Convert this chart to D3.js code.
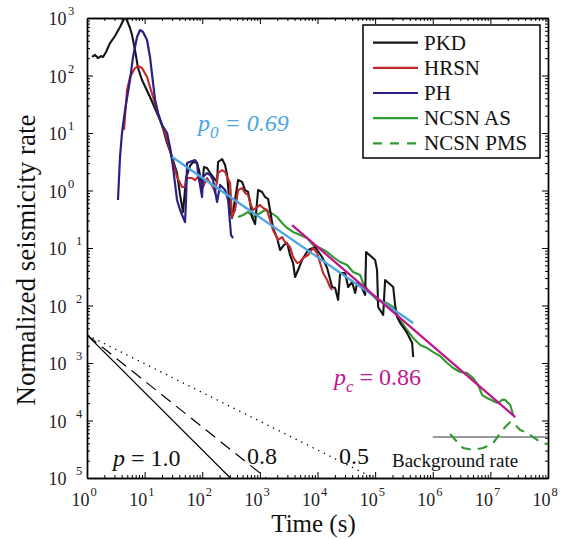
<!DOCTYPE html>
<html><head><meta charset="utf-8">
<script src="https://cdn.jsdelivr.net/npm/d3@7"></script>
<style>body{margin:0;background:#fff}</style>
</head><body><svg id="c" width="566" height="539"></svg>
<script>
// ---- data: [time (s), normalized rate] ----
const pkd = [[1.22,210],[1.38,228],[1.55,201],[1.75,218],[1.90,210],[2.14,256],[2.51,367],[3.06,486],[3.74,697],[4.39,961],[4.75,1000],[5.58,670],[6.04,506],[6.81,277],[7.68,135],[9.01,83.5],[12.4,42.3],[16.4,22.3],[20.0,13.8],[24.5,6.70],[29.9,3.83],[36.5,2.01],[41.2,0.835],[46.4,0.423],[52.3,1.65],[61.4,2.67],[69.2,3.13],[81.2,3.01],[87.9,2.27],[99.3,1.15],[107,2.56],[121,2.46],[137,2.01],[154,1.72],[181,1.41],[188,3.13],[221,3.53],[249,2.77],[270,1.86],[304,0.458],[329,0.333],[419,1.52],[491,1.41],[553,1.02],[624,0.942],[676,0.631],[732,0.346],[826,0.261],[931,1.02],[1090,0.942],[1230,0.771],[1390,0.711],[1500,0.458],[1690,0.223],[1990,0.149],[2240,0.0923],[2630,0.113],[2970,0.122],[3340,0.0755],[3770,0.0548],[4080,0.0313],[4600,0.0414],[5400,0.0618],[6870,0.0923],[9090,0.104],[12000,0.0697],[14700,0.0449],[17900,0.0210],[20200,0.0201],[22800,0.0125],[24700,0.0367],[30100,0.0367],[34000,0.0210],[39900,0.0256],[45000,0.0165],[48700,0.0246],[59400,0.0201],[67000,0.0152],[69800,0.0851],[100000,0.0618],[108000,0.0414],[113000,0.00942],[138000,0.00684],[149000,0.0277],[206000,0.0210],[222000,0.0102],[241000,0.00631],[272000,0.00497],[359000,0.00333],[439000,0.00223],[457000,0.00127]];

const hrsn = [[4.39,11.3],[4.95,56.0],[5.58,94.2],[6.81,135],[7.68,146],[9.01,135],[11.0,94.2],[14.0,42.3],[18.5,16.8],[22.6,10],[27.6,5.06],[31.1,3.01],[36.5,1.72],[44.6,1.15],[50.3,1.15],[54.5,1.65],[66.5,1.65],[75.0,1.52],[84.5,1.72],[91.6,1.41],[103,1.15],[121,1.65],[137,1.35],[154,1.15],[167,0.906],[188,2.01],[221,2.27],[249,2.10],[270,1.72],[304,1.35],[329,0.346],[371,0.458],[419,1.02],[491,1.10],[553,0.906],[624,0.835],[676,0.607],[762,0.458],[894,0.516],[1010,0.560],[1140,0.497],[1330,0.458],[1500,0.307],[1690,0.206],[2070,0.138],[2430,0.155],[2740,0.127],[3340,0.104],[3770,0.0697],[4420,0.0548],[4990,0.0571],[5620,0.0670],[6870,0.0755],[8390,0.1],[9840,0.0818],[11100,0.0548],[12500,0.0367],[14700,0.0277],[16500,0.0210],[17900,0.0186]];

const ph = [[3.45,0.684],[3.74,3.83],[4.05,10],[4.57,25.1],[5.58,83.5],[6.29,210],[7.38,468],[8.32,618],[9.38,571],[11.0,414],[12.4,210],[14.0,74.1],[15.2,37.5],[17.1,22.3],[20.0,13.8],[24.5,10],[27.6,5.71],[31.1,2.56],[36.5,0.684],[41.2,0.458],[50.3,0.283],[52.3,0.684],[54.5,3.01],[66.5,3.26],[75.0,3.39],[81.2,3.01],[84.5,2.01],[99.3,0.771],[103,1.72],[121,2.01],[137,1.86],[154,1.52],[181,0.631],[204,1.25],[249,1.02],[281,0.684],[316,0.168],[343,0.149]];

const ncsnAS = [[419,0.346],[511,0.375],[624,0.423],[762,0.346],[1010,0.406],[1230,0.458],[1500,0.423],[1990,0.346],[2430,0.272],[2970,0.223],[3770,0.190],[4990,0.168],[6590,0.149],[8390,0.113],[11100,0.1],[14700,0.0851],[18700,0.0697],[24700,0.0571],[32700,0.0506],[41500,0.0383],[54900,0.0339],[61900,0.0246],[81900,0.0165],[108000,0.0125],[161000,0.0110],[205000,0.00942],[272000,0.00560],[359000,0.00375],[457000,0.00272],[604000,0.00206],[800000,0.00182],[1.02e6,0.00155],[1.34e6,0.00132],[1.78e6,0.001],[2.26e6,0.000818],[2.99e6,0.000697],[3.95e6,0.000670],[5.02e6,0.000548],[6.14e6,0.000414],[7.21e6,0.000277],[8.79e6,0.000246],[1.21e7,0.000210],[1.36e7,0.000201],[1.60e7,0.000228],[1.81e7,0.000228],[2.21e7,0.000186],[2.49e7,0.000125]];

const ncsnPMS = [[2.00e6,5.82e-5],[2.65e6,4.23e-5],[3.37e6,3.33e-5],[5.02e6,3.07e-5],[7.50e6,3.33e-5],[1.12e7,4.06e-5],[1.48e7,6.07e-5],[1.81e7,7.71e-5],[2.21e7,9.42e-5],[2.49e7,9.06e-5],[3.29e7,6.84e-5],[4.35e7,6.07e-5],[5.53e7,5.16e-5],[7.33e7,4.23e-5],[9.69e7,3.90e-5]];

const fitP0 = [[30,3.83],[4.57e5,4.97e-3]];      // p0 = 0.69
const fitPc = [[3620,0.251],[2.70e7,1.15e-4]];   // pc = 0.86
const backgroundRate = [[1e6,5.17e-5],[1e8,5.17e-5]];
const refP = [1.0, 0.8, 0.5];
const refRateAt1s = 3.07e-3;

const xTickExp = [0,1,2,3,4,5,6,7,8];
const yTickExp = [-5,-4,-3,-2,-1,0,1,2,3];
const yTickLabel = ["5","4","3","2","1","0","1","2","3"];

// ---- drawing ----
const svg = d3.select("#c");
const L=87, R=548, T=18, B=478;
const x = d3.scaleLog().domain([1,1e8]).range([L,R]);
const y = d3.scaleLog().domain([1e-5,1e3]).range([B,T]);
const serif = "Liberation Serif, Times New Roman, serif";

svg.append("defs").append("clipPath").attr("id","clip")
  .append("rect").attr("x",L).attr("y",T).attr("width",R-L).attr("height",B-T);

const majorX = xTickExp.map(e=>Math.pow(10,e));
const majorY = yTickExp.map(e=>Math.pow(10,e));
const minorOf = (majors)=>{const m=[];for(let i=0;i<majors.length-1;i++)for(let k=2;k<=9;k++)m.push(majors[i]*k);return m;};
const minorX = minorOf(majorX), minorY = minorOf(majorY);

function axisG(axis, tr){
  const g = svg.append("g").attr("transform",tr).call(axis);
  g.selectAll("text").remove();
  g.selectAll("line").attr("stroke","#000").attr("stroke-width",1);
  g.select(".domain").attr("stroke","#000").attr("stroke-width",1.4);
  return g;
}
[[d3.axisBottom, `translate(0,${B})`, x, majorX, minorX],
 [d3.axisTop, `translate(0,${T})`, x, majorX, minorX],
 [d3.axisLeft, `translate(${L},0)`, y, majorY, minorY],
 [d3.axisRight, `translate(${R},0)`, y, majorY, minorY]].forEach(([ax,tr,sc,maj,min])=>{
  axisG(ax(sc).tickValues(min).tickSizeInner(-3).tickSizeOuter(0).tickFormat(""), tr);
  axisG(ax(sc).tickValues(maj).tickSizeInner(-6).tickSizeOuter(0).tickFormat(""), tr);
});

// tick labels
xTickExp.forEach(e=>{
  const px = x(Math.pow(10,e));
  svg.append("text").attr("x",px+2.5).attr("y",506).attr("text-anchor","end")
    .attr("font-family",serif).attr("font-size",18).attr("fill","#222").text("10");
  svg.append("text").attr("x",px+3.5).attr("y",495.5)
    .attr("font-family",serif).attr("font-size",12.5).attr("fill","#222").text(String(e));
});
yTickExp.forEach((e,i)=>{
  const py = y(Math.pow(10,e));
  svg.append("text").attr("x",66.5).attr("y",py+7).attr("text-anchor","end")
    .attr("font-family",serif).attr("font-size",18).attr("fill","#222").text("10");
  svg.append("text").attr("x",e<0?76:68).attr("y",py-3)
    .attr("font-family",serif).attr("font-size",12.5).attr("fill","#222").text(yTickLabel[i]);
});

// axis titles
svg.append("text").attr("x",313.5).attr("y",532).attr("text-anchor","middle")
  .attr("font-family",serif).attr("font-size",25).attr("fill","#111").text("Time (s)");
svg.append("text").attr("transform","translate(35,260) rotate(-90)").attr("text-anchor","middle")
  .attr("font-family",serif).attr("font-size",27).attr("fill","#111").text("Normalized seismicity rate");

const plot = svg.append("g").attr("clip-path","url(#clip)");
const line = d3.line().x(d=>x(d[0])).y(d=>y(d[1]));

// reference decay lines
const refDash = {"1":null, "0.8":"12,7", "0.5":"1.3,5"};
refP.forEach(p=>{
  const tEnd = Math.pow(refRateAt1s/1e-5, 1/p);
  plot.append("path").datum([[1,refRateAt1s],[tEnd,1e-5]]).attr("d",line)
    .attr("fill","none").attr("stroke","#000").attr("stroke-width",p===0.5?1.3:1.2)
    .attr("stroke-dasharray",refDash[String(p)]);
});

// background rate
plot.append("path").datum(backgroundRate).attr("d",line)
  .attr("fill","none").attr("stroke","#777").attr("stroke-width",1.5);

const series = [
  {name:"PKD", data:pkd, color:"#151515", w:2.1, dash:null},
  {name:"HRSN", data:hrsn, color:"#c0282c", w:2.1, dash:null},
  {name:"PH", data:ph, color:"#2a2185", w:2.2, dash:null},
  {name:"NCSN AS", data:ncsnAS, color:"#2f9a2f", w:2.1, dash:null},
  {name:"NCSN PMS", data:ncsnPMS, color:"#2f9a2f", w:2.1, dash:"10,7"}
];
[series[3],series[4],series[0],series[1],series[2]].forEach(s=>{
  plot.append("path").datum(s.data).attr("d",line).attr("fill","none")
    .attr("stroke",s.color).attr("stroke-width",s.w).attr("stroke-linejoin","round")
    .attr("stroke-dasharray",s.dash);
});

// fits
plot.append("path").datum(fitP0).attr("d",line).attr("fill","none").attr("stroke","#4ba6e2").attr("stroke-width",2.3);
plot.append("path").datum(fitPc).attr("d",line).attr("fill","none").attr("stroke","#c0168c").attr("stroke-width",2.3);

// annotations
const t0 = svg.append("text").attr("x",198).attr("y",131).attr("font-family",serif)
  .attr("font-size",24).attr("font-style","italic").attr("fill","#4ba6e2");
t0.append("tspan").text("p");
t0.append("tspan").attr("font-size",17).attr("dy",7).text("0");
t0.append("tspan").attr("dy",-7).text(" = 0.69");

const tc = svg.append("text").attr("x",334).attr("y",385).attr("font-family",serif)
  .attr("font-size",24).attr("fill","#c0168c");
tc.append("tspan").attr("font-style","italic").text("p");
tc.append("tspan").attr("font-style","italic").attr("font-size",17).attr("dy",7).text("c");
tc.append("tspan").attr("dy",-7).text(" = 0.86");

const tp = svg.append("text").attr("x",113).attr("y",466).attr("font-family",serif)
  .attr("font-size",24).attr("fill","#111");
tp.append("tspan").attr("font-style","italic").text("p");
tp.append("tspan").text(" = 1.0");
svg.append("text").attr("x",247).attr("y",464).attr("font-family",serif).attr("font-size",24).attr("fill","#111").text("0.8");
svg.append("text").attr("x",339).attr("y",464).attr("font-family",serif).attr("font-size",24).attr("fill","#111").text("0.5");
svg.append("text").attr("x",392).attr("y",467).attr("font-family",serif).attr("font-size",19).attr("fill","#111").text("Background rate");

// legend
const lg = svg.append("g");
lg.append("rect").attr("x",363).attr("y",25).attr("width",177).attr("height",133)
  .attr("fill","#fff").attr("stroke","#000").attr("stroke-width",1.5);
series.forEach((s,i)=>{
  const ly = 42.7 + 25.15*i;
  lg.append("line").attr("x1",373).attr("x2",418).attr("y1",ly).attr("y2",ly)
    .attr("stroke",s.color).attr("stroke-width",2.2).attr("stroke-dasharray",s.dash?"9,8":null);
  lg.append("text").attr("x",424).attr("y",ly+7).attr("font-family",serif)
    .attr("font-size",21).attr("fill","#111").text(s.name);
});
</script></body></html>
